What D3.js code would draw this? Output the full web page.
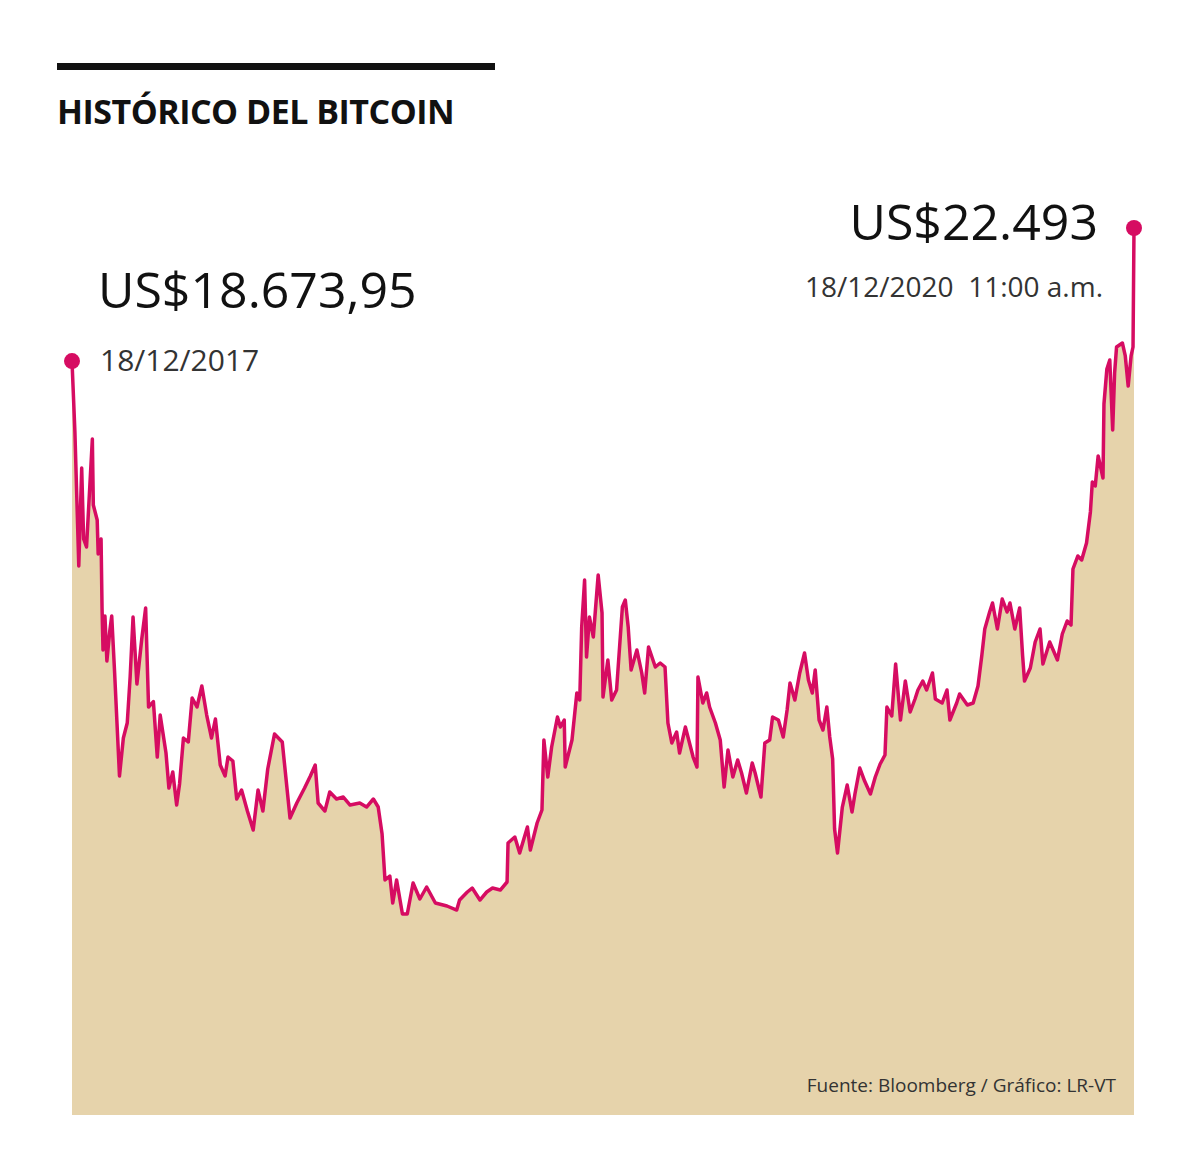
<!DOCTYPE html>
<html><head><meta charset="utf-8">
<script src="https://cdn.jsdelivr.net/npm/d3@7"></script>
<style>body{margin:0;background:#fff}svg{display:block}text{font-family:"Open Sans","Noto Sans",sans-serif}</style>
</head><body><svg id="c" width="1200" height="1168"></svg>
<script>
const title = "HISTÓRICO DEL BITCOIN";
const startLabel = "US$18.673,95", startDate = "18/12/2017";
const endLabel = "US$22.493", endDate = "18/12/2020  11:00 a.m.";
const source = "Fuente: Bloomberg / Gráfico: LR-VT";
// days since 18/12/2017
const days = [0,3,7,10,12,15,21,22,26,27,30,31,32,34,36,39,41,44,49,53,57,60,63,67,72,76,79,84,88,91,97,100,104,108,111,115,120,124,129,134,139,144,148,153,158,161,166,170,175,181,187,192,197,202,209,217,225,232,240,246,251,254,261,266,273,280,287,297,304,311,316,320,323,328,331,335,341,346,352,359,366,375,387,397,
400,408,413,421,428,434,442,449,450,457,462,470,473,480,485,487,491,495,501,504,508,509,516,521,524,526,529,531,534,538,543,547,548,553,557,562,568,571,574,577,583,588,591,595,602,607,612,615,619,624,627,633,641,645,646,651,655,658,664,669,673,677,682,687,691,696,702,705,711,715,720,723,729,734,738,741,746,751,756,760,764,767,771,775,779,782,785,787,790,795,800,805,808,813,818,824,829,834,839,841,846,850,855,860,865,870,873,878,882,888,891,898,903,906,913,916,924,930,935,939,942,947,950,955,960,965,968,973,978,981,983,989,994,999,1002,1009,1017,1022,1027,1031,1033,1038,1042,1047,1051,1053,1056,1059,1064,1065,1068,1071,1074,1076,1078,1084,1087,1090,1093,1095,1096];
const prices = [18674,16639,12793,15605,13568,13338,16438,14543,14113,13137,13568,11587,10382,11358,10066,10927,11358,9722,6766,7856,8287,9607,11329,9406,10698,11587,8746,8900,7311,8516,7426,6421,6881,5933,6536,7856,7742,9004,8746,9349,8516,7856,8402,7081,6766,7311,7196,6106,6364,5761,5216,6364,5761,6967,7971,7742,5560,5991,6421,6766,7081,5991,5761,6307,6106,6163,5933,5991,5876,6106,5876,5101,3781,3896,3121,3781,2805,2805,3695,3236,3580,3121,3035,2920,
3207,3437,3551,3207,3437,3551,3494,3724,4843,5015,4556,5302,4642,5417,5790,7799,6737,7598,8459,8172,8373,7024,7799,9148,8947,11042,12391,10181,11329,10755,12534,11444,9033,10095,8947,9234,11616,11817,11042,9808,10382,9722,9148,10468,9894,10009,9894,8287,7713,8029,7426,8172,7311,7024,9607,8861,9148,8746,8287,7799,6450,7512,6737,7225,6852,6278,7139,6852,6163,7713,7799,8459,8373,7885,8660,9435,8947,9722,10296,9521,9148,9808,8373,8086,8746,7885,7254,5245,4556,5876,6507,5733,6249,6995,6622,6249,6737,7110,7368,8746,8488,9980,8373,9492,8603,8976,9234,9492,9234,9722,8976,8861,9234,8373,8861,9119,8803,8861,9349,10238,10985,11473,11731,10985,11846,11473,11731,10985,11587,10238,9492,9865,10612,10985,9980,10612,10095,10841,11214,11099,12707,13080,12965,13453,14343,15204,15089,15950,15318,17442,18447,18705,16696,18332,19078,19193,18820,17959,18820,19078,22493];

const data = days.map((d,i)=>({d, p:prices[i]}));
const svg = d3.select("#c");
const x = d3.scaleLinear().domain([0,1096]).range([72,1134]);
const y = d3.scaleLinear().domain([-2963,22493]).range([1115,228]);

svg.append("path").datum(data).attr("fill","#e6d3ab")
  .attr("d", d3.area().x(d=>x(d.d)).y0(y(-2963)).y1(d=>y(d.p)));
svg.append("path").datum(data).attr("fill","none").attr("stroke","#d60c62")
  .attr("stroke-width",3.5).attr("stroke-linejoin","round")
  .attr("d", d3.line().x(d=>x(d.d)).y(d=>y(d.p)));
[data[0], data[data.length-1]].forEach(d=>
  svg.append("circle").attr("cx",x(d.d)).attr("cy",y(d.p)).attr("r",8).attr("fill","#d60c62"));

svg.append("rect").attr("x",57).attr("y",63).attr("width",438).attr("height",7).attr("fill","#111");
svg.append("text").attr("x",57).attr("y",124).attr("font-size",34).attr("font-weight",700)
  .attr("fill","#111").attr("letter-spacing",-0.5).text(title);
svg.append("text").attr("x",98).attr("y",308).attr("font-size",50).attr("fill","#111").text(startLabel);
svg.append("text").attr("x",100).attr("y",371).attr("font-size",30).attr("fill","#333").text(startDate);
svg.append("text").attr("x",1098).attr("y",240).attr("text-anchor","end").attr("font-size",50).attr("fill","#111").text(endLabel);
svg.append("text").attr("x",1103).attr("y",297).attr("text-anchor","end").attr("font-size",28).attr("fill","#333").attr("xml:space","preserve").style("white-space","pre").text(endDate);
svg.append("text").attr("x",1116).attr("y",1092).attr("text-anchor","end").attr("font-size",19).attr("fill","#333").text(source);
</script></body></html>
